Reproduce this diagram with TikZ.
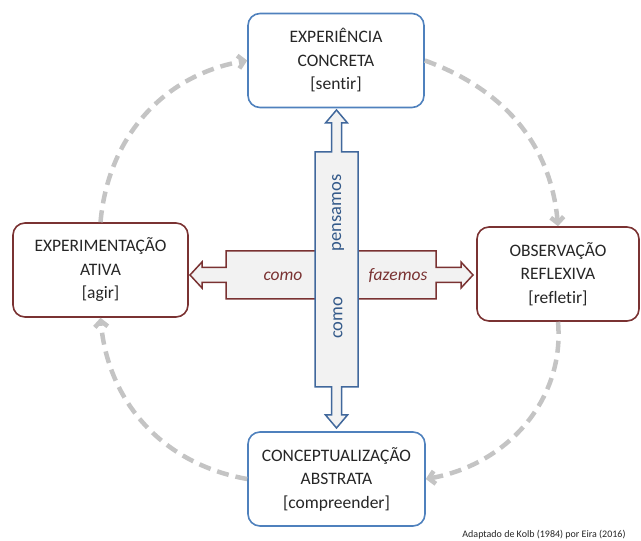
\documentclass[tikz,border=0pt]{standalone}
\usepackage{fontspec}
\setmainfont{Carlito}[Ligatures=NoCommon]
\usepackage{tikz}
\usetikzlibrary{arrows.meta}

\definecolor{boxblue}{HTML}{4F81BD}
\definecolor{arrowblue}{HTML}{41689C}
\definecolor{textblue}{HTML}{345A8A}
\definecolor{boxred}{HTML}{7A3232}
\definecolor{cyclegray}{HTML}{C4C4C4}
\definecolor{crossfill}{HTML}{F2F2F2}
\definecolor{ink}{HTML}{262626}

\begin{document}
\begin{tikzpicture}[x=1pt, y=1pt,
	stage/.style={draw, rounded corners=12pt, line width=1.6pt, fill=white, text=ink,
		minimum height=94pt, align=center, inner sep=0pt,
		font=\fontsize{17.5}{23.5}\selectfont},
	cycle/.style={draw=cyclegray, line width=4.5pt, dash pattern=on 12pt off 7pt,
		-{Straight Barb[length=6pt,width=13pt]}},
	word/.style={font=\fontsize{18.5}{20}\selectfont, inner sep=0pt}]
	\useasboundingbox (0,0) rectangle (641,541);

	% the four stages
	\node[stage, draw=boxblue, minimum width=176pt] (exper) at (336,480.5) {EXPERIÊNCIA\\CONCRETA\\{[sentir]}};
	\node[stage, draw=boxred, minimum width=162pt] (obs) at (558,267) {OBSERVAÇÃO\\REFLEXIVA\\{[refletir]}};
	\node[stage, draw=boxblue, minimum width=177pt] (conc) at (336.5,62) {CONCEPTUALIZAÇÃO\\ABSTRATA\\{[compreender]}};
	\node[stage, draw=boxred, minimum width=175pt] (ativa) at (100.5,271) {EXPERIMENTAÇÃO\\ATIVA\\{[agir]}};

	% the cycle
	\draw[cycle] (exper.east) to[out=-20, in=95] (obs.north);
	\draw[cycle] (obs.south) to[out=-85, in=10] (conc.east);
	\draw[cycle] (conc.west) to[out=170, in=-85] (ativa.south);
	\draw[cycle] (ativa.north) to[out=85, in=190] (exper.west);

	% como fazemos
	\draw[boxred, line width=1.5pt, fill=crossfill] (190,266) -- (202,279) -- (202,273.5) -- (226,273.5) -- (226,290)
		-- (436,290) -- (436,273.5) -- (461,273.5) -- (461,279) -- (473,266) -- (461,253) -- (461,258.5)
		-- (436,258.5) -- (436,242) -- (226,242) -- (226,258.5) -- (202,258.5) -- (202,253) -- cycle;
	% como pensamos
	\draw[arrowblue, line width=1.5pt, fill=crossfill] (336.5,431) -- (347.5,418) -- (341.5,418) -- (341.5,389)
		-- (358,389) -- (358,154) -- (341.5,154) -- (341.5,126) -- (347.5,126) -- (336.5,113) -- (325.5,126)
		-- (331.5,126) -- (331.5,154) -- (315,154) -- (315,389) -- (331.5,389) -- (331.5,418) -- (325.5,418) -- cycle;

	\node[word, text=boxred, font=\fontsize{17.5}{20}\selectfont\itshape] (como1) at (283,265) {como};
	\node[word, text=boxred, font=\fontsize{17.5}{20}\selectfont\itshape] (fazemos) at (398,265) {fazemos};
	\node[word, text=textblue, rotate=90] (pensamos) at (338,328) {pensamos};
	\node[word, text=textblue, rotate=90] (como2) at (338,223) {como};

	\node[font=\fontsize{10}{11}\selectfont, text=ink] (fonte) at (544,6) {Adaptado de Kolb (1984) por Eira (2016)};
\end{tikzpicture}
\end{document}
